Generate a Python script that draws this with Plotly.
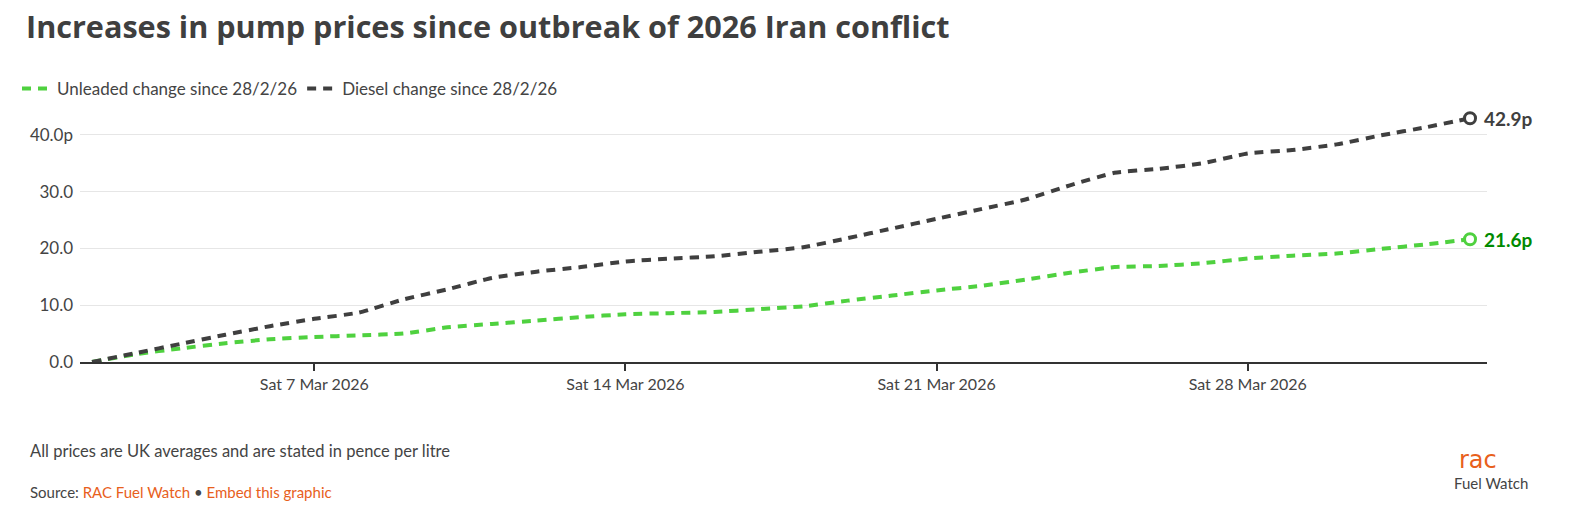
import plotly.graph_objects as go
import pandas as pd

# ---- data ----
dates = pd.date_range("2026-03-02", "2026-04-02", freq="D")
unleaded = [0, 1.4, 2.4, 3.3, 4.0, 4.4, 4.7, 5.0, 6.1, 6.7, 7.3, 7.9, 8.4, 8.6, 8.8, 9.3,
            9.8, 10.8, 11.7, 12.6, 13.4, 14.5, 15.7, 16.7, 16.9, 17.4, 18.2, 18.7, 19.1,
            19.9, 20.7, 21.6]
diesel = [0, 1.6, 3.2, 4.8, 6.3, 7.6, 8.7, 11.0, 12.8, 14.8, 15.9, 16.7, 17.7, 18.2, 18.6,
          19.4, 20.2, 21.8, 23.5, 25.2, 26.9, 28.6, 31.1, 33.3, 34.0, 35.0, 36.7, 37.3,
          38.3, 39.9, 41.3, 42.9]
series_names = ["Unleaded change since 28/2/26", "Diesel change since 28/2/26"]
x_tick_dates = ["2026-03-07", "2026-03-14", "2026-03-21", "2026-03-28"]
x_tick_labels = ["Sat 7 Mar 2026", "Sat 14 Mar 2026", "Sat 21 Mar 2026", "Sat 28 Mar 2026"]
y_tick_vals = [0, 10, 20, 30, 40]
y_tick_labels = ["0.0", "10.0", "20.0", "30.0", "40.0p"]

GREEN = "#4fd13f"
GREEN_DARK = "#008a00"
DARK = "#3f3f3f"
TEXT = "#444444"
ORANGE = "#e8601c"
FONT = "Lato, 'Open Sans', sans-serif"
TFONT = "'Open Sans', Lato, sans-serif"

W, H = 1595, 528
L, R, T, B = 80, 108, 112, 166
PW, PH = W - L - R, H - T - B

fig = go.Figure()
for name, vals, col in [(series_names[0], unleaded, GREEN), (series_names[1], diesel, DARK)]:
    fig.add_trace(go.Scatter(
        x=dates, y=vals, mode="lines", name=name,
        line=dict(color=col, width=4, dash="9px,7px", shape="spline", smoothing=0.5),
        hoverinfo="skip", cliponaxis=False,
    ))
# end markers
for vals, col in [(unleaded, GREEN), (diesel, DARK)]:
    fig.add_trace(go.Scatter(
        x=[dates[-1]], y=[vals[-1]], mode="markers", showlegend=False,
        marker=dict(size=11, color="white", line=dict(color=col, width=3)),
        hoverinfo="skip", cliponaxis=False,
    ))

# end labels
for vals, col in [(unleaded, GREEN_DARK), (diesel, DARK)]:
    fig.add_annotation(x=dates[-1], y=vals[-1], xref="x", yref="y",
                       text=f"<b>{vals[-1]:.1f}p</b>", showarrow=False,
                       xanchor="left", yanchor="middle", xshift=12,
                       font=dict(family=FONT, size=19, color=col))

fig.update_layout(
    width=W, height=H,
    paper_bgcolor="white", plot_bgcolor="white",
    margin=dict(l=L, r=R, t=T, b=B, autoexpand=False),
    font=dict(family=FONT, size=15, color=TEXT),
    title=dict(text="<b>Increases in pump prices since outbreak of 2026 Iran conflict</b>",
               x=26 / W, xref="container", xanchor="left",
               y=1 - 27 / H, yref="container", yanchor="middle",
               font=dict(family=TFONT, size=30.6, color=DARK)),
    showlegend=True,
    legend=dict(orientation="h", xref="container", yref="container",
                x=17 / W, xanchor="left", y=1 - 89 / H, yanchor="middle",
                font=dict(family=FONT, size=17, color=TEXT),
                itemwidth=30, bgcolor="rgba(0,0,0,0)", traceorder="normal"),
    xaxis=dict(
        range=["2026-03-01 17:30", "2026-04-02 09:10"],
        tickvals=x_tick_dates, ticktext=x_tick_labels,
        showgrid=False, showline=True, linecolor="#333333", linewidth=1.5,
        ticks="outside", ticklen=7, tickcolor="#333333", tickwidth=1.5,
        tickfont=dict(family=FONT, size=16, color=TEXT), zeroline=False,
        automargin=False,
    ),
    yaxis=dict(
        range=[0, 44], tickvals=y_tick_vals, ticktext=y_tick_labels,
        showgrid=True, gridcolor="#e6e6e6", gridwidth=1, zeroline=False,
        showline=False, ticks="", tickfont=dict(family=FONT, size=17, color=TEXT),
        ticklabelstandoff=6, automargin=False,
    ),
)

def px_to_paper(xpx, ypx):
    return (xpx - L) / PW, 1 - (ypx - T) / PH

fx, fy = px_to_paper(28, 451)
fig.add_annotation(xref="paper", yref="paper", x=fx, y=fy,
                   text="All prices are UK averages and are stated in pence per litre",
                   showarrow=False, xanchor="left", yanchor="middle",
                   font=dict(family=FONT, size=16.5, color=TEXT))
fx, fy = px_to_paper(28, 492)
fig.add_annotation(xref="paper", yref="paper", x=fx, y=fy,
                   text=f"Source: <span style='color:{ORANGE}'>RAC Fuel Watch</span> • "
                        f"<span style='color:{ORANGE}'>Embed this graphic</span>",
                   showarrow=False, xanchor="left", yanchor="middle",
                   font=dict(family=FONT, size=15, color=TEXT))
fx, fy = px_to_paper(1478, 460)
fig.add_annotation(xref="paper", yref="paper", x=fx, y=fy,
                   text="rac", showarrow=False, xanchor="center", yanchor="middle",
                   font=dict(family="'DejaVu Sans', sans-serif", size=24, color=ORANGE))
fx, fy = px_to_paper(1491, 483)
fig.add_annotation(xref="paper", yref="paper", x=fx, y=fy,
                   text="Fuel Watch", showarrow=False, xanchor="center", yanchor="middle",
                   font=dict(family=FONT, size=15, color=TEXT))

fig.write_html("out.html", config={"displayModeBar": False},
               post_script="document.body.style.margin='0';document.body.style.overflow='hidden';")
